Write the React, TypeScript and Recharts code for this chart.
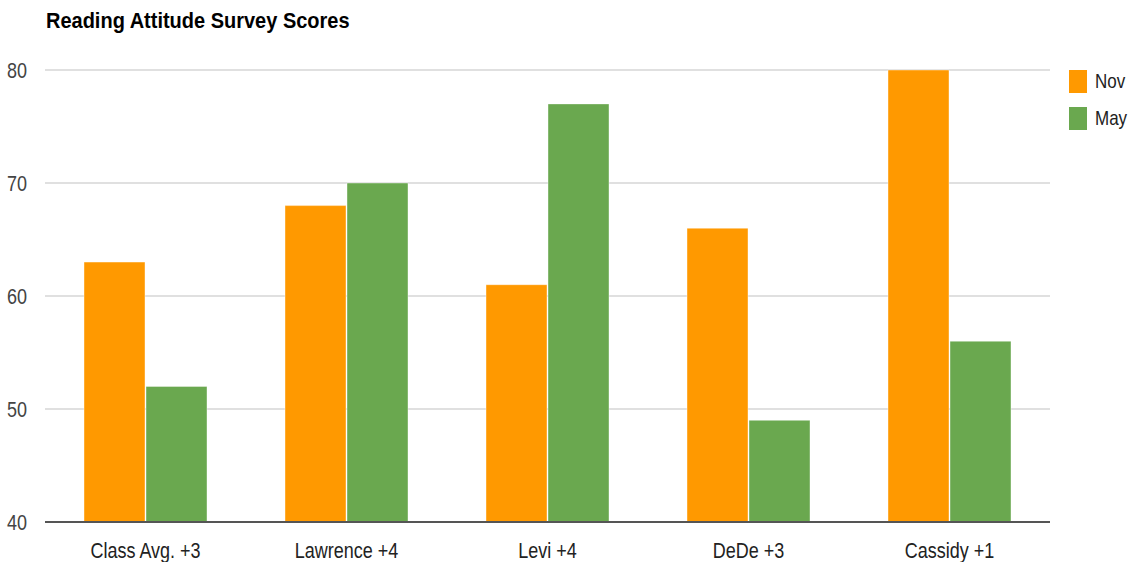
import React from "react";
import { BarChart, Bar, XAxis, YAxis, CartesianGrid, Legend } from "recharts";

// Survey scores per student (label carries the change from Nov to May)
const students = ["Class Avg. +3", "Lawrence +4", "Levi +4", "DeDe +3", "Cassidy +1"];
const novScores = [63, 68, 61, 66, 80];
const mayScores = [52, 70, 77, 49, 56];
const yTicks = [40, 50, 60, 70, 80];
const seriesNames = ["Nov", "May"];
const seriesColors = ["#ff9900", "#6aa84f"];

const data = students.map((name, i) => ({ name, Nov: novScores[i], May: mayScores[i] }));

const FONT = "'Liberation Sans', Arial, Helvetica, sans-serif";
const STRETCH = 1.2;

const YTick = (props: any) => {
  const { x, y, payload } = props;
  return (
    <text
      transform={`translate(${x},${y + 7.7}) scale(1,${STRETCH})`}
      textAnchor="end"
      fontSize={18}
      fill="#444"
      fontFamily={FONT}
    >
      {payload.value}
    </text>
  );
};

const XTick = (props: any) => {
  const { x, y, payload } = props;
  return (
    <text
      transform={`translate(${x},${y + 36}) scale(1,${STRETCH})`}
      textAnchor="middle"
      fontSize={18}
      fill="#222"
      fontFamily={FONT}
    >
      {payload.value}
    </text>
  );
};

const LegendContent = () => (
  <div style={{ fontFamily: FONT }}>
    {seriesNames.map((n, i) => (
      <div key={n} style={{ display: "flex", alignItems: "center", height: 23, marginBottom: 14 }}>
        <div style={{ width: 18, height: 23, background: seriesColors[i], marginRight: 8 }} />
        <span
          style={{
            display: "inline-block",
            fontSize: 17,
            color: "#222",
            transform: `scale(1,${STRETCH})`,
            lineHeight: "23px",
          }}
        >
          {n}
        </span>
      </div>
    ))}
  </div>
);

export default function App() {
  return (
    <div style={{ position: "absolute", left: 0, top: 0, width: 1133, height: 562, background: "#fff" }}>
      <svg style={{ position: "absolute", left: 0, top: 0 }} width={400} height={40}>
        <text
          transform={`translate(46,28.3) scale(1,1.12)`}
          fontSize={20}
          fontWeight="bold"
          fill="#000"
          fontFamily={FONT}
        >
          Reading Attitude Survey Scores
        </text>
      </svg>
      <BarChart
        width={1133}
        height={562}
        data={data}
        margin={{ top: 70, right: 83, bottom: 0, left: 0 }}
        barGap={1}
        barSize={61}
      >
        <CartesianGrid vertical={false} stroke="#d6d6d6" strokeWidth={1.5} />
        <XAxis
          dataKey="name"
          height={40}
          tickLine={false}
          tickSize={0}
          tickMargin={0}
          axisLine={{ stroke: "#555", strokeWidth: 2 }}
          tick={<XTick />}
          interval={0}
        />
        <YAxis
          width={45}
          domain={[40, 80]}
          ticks={yTicks}
          axisLine={false}
          tickLine={false}
          tickSize={0}
          tickMargin={18}
          tick={<YTick />}
          interval={0}
        />
        <Legend
          layout="vertical"
          align="center"
          verticalAlign="middle"
          content={<LegendContent />}
          wrapperStyle={{ position: "absolute", left: 1069, top: 70, width: 64 }}
        />
        <Bar dataKey="Nov" fill={seriesColors[0]} stroke="rgba(255,255,255,0.4)" strokeWidth={1} isAnimationActive={false} />
        <Bar dataKey="May" fill={seriesColors[1]} stroke="rgba(255,255,255,0.4)" strokeWidth={1} isAnimationActive={false} />
      </BarChart>
    </div>
  );
}
